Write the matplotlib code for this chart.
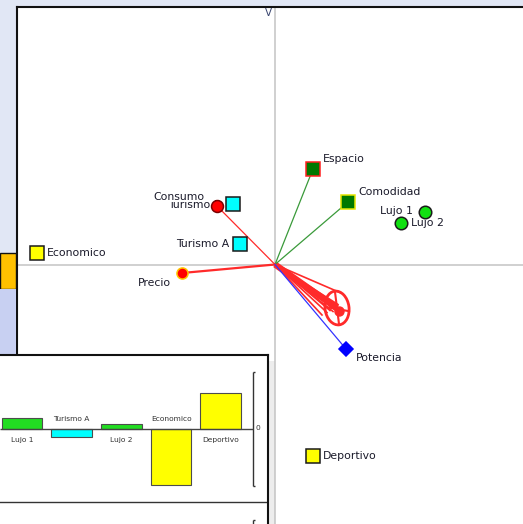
import matplotlib.pyplot as plt
from matplotlib.patches import Ellipse, Rectangle

# points on the factor map (axis 1 / axis 2)
names = ['Espacio', 'Comodidad', 'Lujo 1', 'Lujo 2', 'Consumo', 'Turismo B',
         'Turismo A', 'Economico', 'Precio', 'Potencia', 'Deportivo']
xs = [0.38, 0.73, 1.50, 1.26, -0.58, -0.42, -0.35, -2.38, -0.93, 0.71, 0.38]
ys = [0.955, 0.625, 0.525, 0.415, 0.585, 0.605, 0.205, 0.115, -0.085, -0.845, -1.915]

# bundle of small red vectors near Potencia
cone_x = [0.66, 0.47, 0.61, 0.63, 0.58, 0.64, 0.60, 0.55, 0.62, 0.66, 0.57, 0.52]
cone_y = [-0.285, -0.505, -0.445, -0.40, -0.47, -0.44, -0.42, -0.46, -0.47, -0.45, -0.43, -0.48]
cone_center = (0.62, -0.435)

# bar panel (partly hidden window)
bar_labels = ['Lujo 1', 'Turismo A', 'Lujo 2', 'Economico', 'Deportivo']
bar_values = [0.20, -0.15, 0.084, -1.0, 0.64]
bar_colors = ['#22dd22', '#00ffff', '#22dd22', '#ffff00', '#ffff00']

# marker / label style per point
green = '#3a9a3a'
red = '#ff2a2a'
blue = '#3333ff'
style = {
    'Espacio':   dict(m='s', fc='#007800', ec='#ff2020', ms=9.4, vec=green, off=(10, 10), ha='left'),
    'Comodidad': dict(m='s', fc='#007800', ec='#e6e600', ms=9.4, vec=green, off=(10, 10), ha='left'),
    'Lujo 1':    dict(m='o', fc='#11e011', ec='#1a1a1a', ms=9.0, vec=None, off=(-12, 1), ha='right'),
    'Lujo 2':    dict(m='o', fc='#11e011', ec='#1a1a1a', ms=9.0, vec=None, off=(10, 0), ha='left'),
    'Consumo':   dict(m='o', fc='#ff0000', ec='#7a0000', ms=8.6, vec=red, off=(-12, 9), ha='right'),
    'Turismo B': dict(m='s', fc='#00ffff', ec='#1a1a1a', ms=9.4, vec=None, off=(-12, -1), ha='right'),
    'Turismo A': dict(m='s', fc='#00ffff', ec='#1a1a1a', ms=9.4, vec=None, off=(-11, 0), ha='right'),
    'Economico': dict(m='s', fc='#ffff00', ec='#1a1a1a', ms=9.4, vec=None, off=(10, 0), ha='left'),
    'Precio':    dict(m='o', fc='#ff0000', ec='#ffc800', ms=8.0, vec=red, off=(-11, -10), ha='right'),
    'Potencia':  dict(m='D', fc='#0000ff', ec='#0000ff', ms=7.6, vec=blue, off=(10, -9), ha='left'),
    'Deportivo': dict(m='s', fc='#ffff00', ec='#1a1a1a', ms=9.4, vec=None, off=(10, 0), ha='left'),
}

W, H = 523, 524
fig = plt.figure(figsize=(W / 100, H / 100), dpi=100, facecolor='#e1e7f5')

# left strip pieces of the application window
fig.patches.append(Rectangle((0, (H - 289) / H), 16 / W, 36 / H, transform=fig.transFigure,
                             facecolor='#ffc000', edgecolor='#111111', lw=1))
fig.patches.append(Rectangle((0, (H - 355) / H), 16 / W, 66 / H, transform=fig.transFigure,
                             facecolor='#c8d0f2', edgecolor='none'))

# main map
ax = fig.add_axes([17 / W, 0, (W - 17) / W, (H - 7) / H], facecolor='white')
ax.set_xlim((17 - 275) / 100, (W - 275) / 100)
ax.set_ylim((264.5 - H) / 100, (264.5 - 7) / 100)
ax.set_xticks([])
ax.set_yticks([])
for s in ['right', 'bottom']:
    ax.spines[s].set_visible(False)
for s in ['left', 'top']:
    ax.spines[s].set_color('#111111')
    ax.spines[s].set_linewidth(1.5)

ax.axhline(0, color='#c8c8c8', lw=1.2, zorder=1)
ax.axvline(0, color='#c8c8c8', lw=1.2, zorder=1)
ax.text(-0.07, 2.515, 'V', ha='center', va='center', fontsize=7.5, color='#3a4670')

# red bundle
for cx, cy in zip(cone_x, cone_y):
    ax.plot([0, cx], [0, cy], color=red, lw=1.2, zorder=2)
ax.plot([0, cone_center[0]], [0, cone_center[1]], color=red, lw=4.5, zorder=2,
        solid_capstyle='butt')
ax.add_patch(Ellipse(cone_center, 0.24, 0.34, angle=8, fill=False, ec=red, lw=2, zorder=2))
ax.plot([cone_center[0] - 0.02, cone_center[0] + 0.02], [cone_center[1] + 0.16, cone_center[1] - 0.16],
        color=red, lw=1.5, zorder=2)
ax.plot([cone_center[0] - 0.11, cone_center[0] + 0.11], [cone_center[1] + 0.01, cone_center[1] - 0.03],
        color=red, lw=1.5, zorder=2)
ax.plot([cone_center[0] + 0.02], [cone_center[1] - 0.03], 'o', color=red, ms=6.5, zorder=2)

# vectors, markers and labels
for n, x, y in zip(names, xs, ys):
    st = style[n]
    if st['vec']:
        lw = 1.6 if n == 'Precio' else 0.9
        ax.plot([0, x], [0, y], color=st['vec'], lw=lw, zorder=2)
    bbox = dict(fc='white', ec='none', pad=0.3) if n == 'Consumo' else None
    ax.annotate(n, (x, y), xytext=st['off'], textcoords='offset pixels', ha=st['ha'],
                va='center', fontsize=7.8, color='#1a1a2a',
                zorder=4 if n == 'Consumo' else 3, bbox=bbox)
    ax.plot([x], [y], marker=st['m'], ms=st['ms'], mfc=st['fc'], mec=st['ec'],
            mew=1.1, ls='none', zorder=5)

# shadow of the bar window
fig.patches.append(Rectangle((269 / W, 0), 6 / W, 163 / H, transform=fig.transFigure,
                             facecolor='#c4c4c4', alpha=0.3, edgecolor='none'))

# bar window
ins = fig.add_axes([0, 0, 268 / W, 169 / H], facecolor='white', zorder=10)
ins.set_xlim(-22 / 49.7, (268 - 22) / 49.7)
ins.set_ylim((429 - H) / 56, (429 - 355) / 56)
ins.set_xticks([])
ins.set_yticks([])
for s in ['left', 'bottom']:
    ins.spines[s].set_visible(False)
for s in ['right', 'top']:
    ins.spines[s].set_color('#111111')
    ins.spines[s].set_linewidth(1.5)

axis_x = (252.5 - 22) / 49.7
idx = list(range(len(bar_labels)))
ins.bar(idx, bar_values, width=0.82, color=bar_colors, edgecolor='#4d4d4d', lw=0.8, zorder=3)
ins.hlines(0, ins.get_xlim()[0], axis_x, color='#444444', lw=1, zorder=4)
for i, lab, v in zip(idx, bar_labels, bar_values):
    ly = -0.19 if v > 0 else 0.17
    ins.text(i, ly, lab, ha='center', va='center', fontsize=5.4, color='#333333')

# value axis on the right
ins.vlines(axis_x, -1.02, 1.02, color='#333333', lw=1)
ins.hlines([-1.02, 1.02], axis_x, axis_x + 0.06, color='#333333', lw=1)
ins.text(axis_x + 0.07, 0.01, '0', ha='left', va='center', fontsize=5.4, color='#333333')

# separator and start of the next panel
ins.axhline((429 - 502.3) / 56, color='#333333', lw=1)
ins.vlines(axis_x, (429 - H) / 56, (429 - 520) / 56, color='#333333', lw=1)
ins.hlines((429 - 520) / 56, axis_x, axis_x + 0.06, color='#333333', lw=1)

fig.savefig('out.png', dpi=100, facecolor=fig.get_facecolor())
